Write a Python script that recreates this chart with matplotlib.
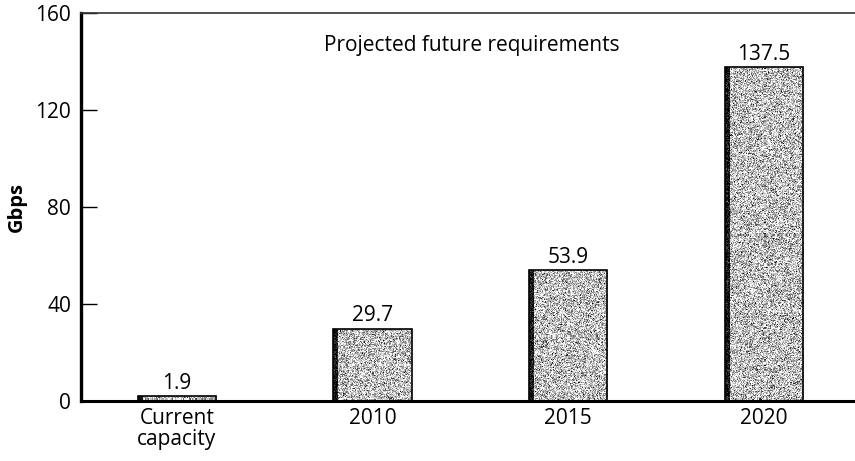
import numpy as np
import matplotlib.pyplot as plt

categories = ['Current\ncapacity', '2010', '2015', '2020']
gbps = [1.9, 29.7, 53.9, 137.5]
value_labels = ['1.9', '29.7', '53.9', '137.5']
yticks = [0, 40, 80, 120, 160]

plt.rcParams['font.family'] = ['Open Sans', 'DejaVu Sans']
FS = 15

fig = plt.figure(figsize=(8.55, 4.61), dpi=100)
ax = fig.add_axes([0.0947, 0.130, 0.9053, 0.842])

x = np.arange(len(categories))
width = 0.40
bars = ax.bar(x, gbps, width=width, facecolor='none', edgecolor='black',
              linewidth=1.2, zorder=3)

# grainy halftone fill, clipped to each bar, with a dark strip on the left edge
tex = np.random.default_rng(7)
px_per_unit = 388 / 160
for rect, val in zip(bars, gbps):
    rows = max(2, int(val * px_per_unit))
    cols = 78
    img = 0.76 + 0.26 * tex.standard_normal((rows, cols))
    img = np.clip(img, 0, 1)
    img[:, :5] = np.clip(0.08 + 0.15 * tex.standard_normal((rows, 5)), 0, 1)
    x0 = rect.get_x()
    im = ax.imshow(img, cmap='gray', vmin=0, vmax=1, interpolation='nearest',
                   extent=(x0, x0 + rect.get_width(), 0, val), aspect='auto',
                   zorder=2)
    im.set_clip_path(rect)

for xi, val, lab in zip(x, gbps, value_labels):
    ax.annotate(lab, (xi, val), xytext=(0, 2), textcoords='offset points',
                ha='center', va='bottom', fontsize=FS)

ax.set_xlim(-0.49, 3.465)
ax.set_ylim(0, 160)
ax.set_aspect('auto')
ax.set_yticks(yticks)
ax.set_xticks(x)
ax.set_xticklabels(categories, fontsize=FS, linespacing=1.0)
ax.tick_params(axis='x', length=0, pad=5)
ax.tick_params(axis='y', direction='in', length=11.5, width=1.0, pad=7,
               labelsize=FS)

ax.spines['left'].set_linewidth(2.4)
ax.spines['bottom'].set_linewidth(2.2)
ax.spines['top'].set_linewidth(1.2)
ax.spines['top'].set_color('#333333')
ax.spines['right'].set_visible(False)

ax.set_ylabel('Gbps', fontsize=FS - 0.5, fontweight='bold', labelpad=6)
fig.text(472 / 855, 1 - 46 / 461, 'Projected future requirements',
         ha='center', va='center', fontsize=FS)

fig.savefig('out.png', dpi=100)
